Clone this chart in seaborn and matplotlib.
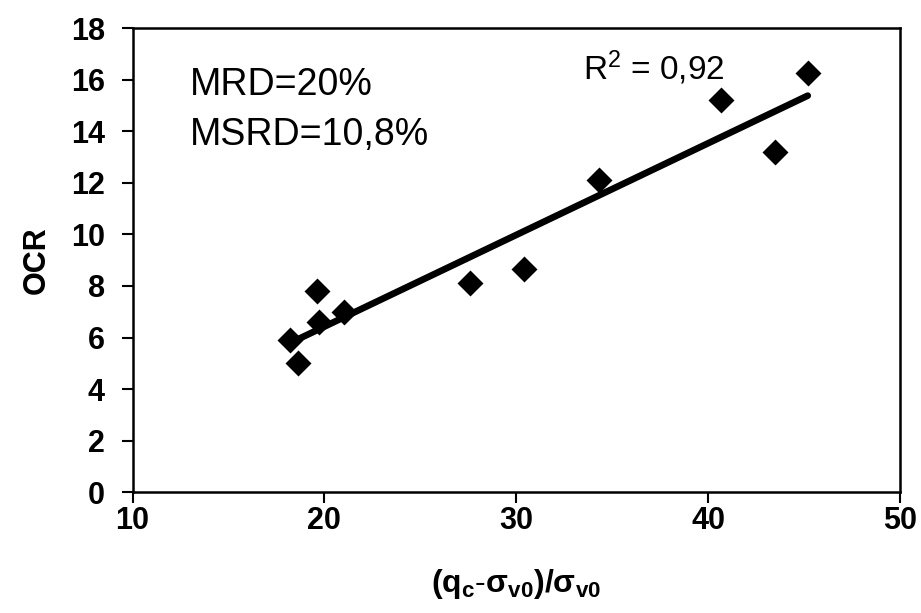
import numpy as np
import pandas as pd
import matplotlib.pyplot as plt
import seaborn as sns

# Dados
qc_norm = [18.2, 18.6, 19.6, 19.7, 21.0, 27.6, 30.4, 34.3, 40.7, 43.5, 45.2]
ocr = [5.9, 5.0, 7.8, 6.6, 7.0, 8.1, 8.65, 12.1, 15.2, 13.2, 16.25]
xticks = [10, 20, 30, 40, 50]
yticks = [0, 2, 4, 6, 8, 10, 12, 14, 16, 18]

df = pd.DataFrame({'x': qc_norm, 'OCR': ocr})

sns.set_style("white")
plt.rcParams['font.family'] = ['Liberation Sans', 'DejaVu Sans']
plt.rcParams['text.color'] = 'black'
plt.rcParams['axes.labelcolor'] = 'black'
plt.rcParams['mathtext.fontset'] = 'custom'
plt.rcParams['mathtext.rm'] = 'Liberation Sans'
plt.rcParams['mathtext.it'] = 'Liberation Sans:italic'
plt.rcParams['mathtext.bf'] = 'Liberation Sans:bold'

fig = plt.figure(figsize=(9.21, 6.13), dpi=100)
ax = fig.add_axes([0.144, 0.197, 0.833, 0.757])

sns.regplot(data=df, x='x', y='OCR', ax=ax, ci=None, marker='D',
            color='black', scatter_kws={'s': 175, 'linewidths': 0, 'alpha': 1},
            line_kws={'linewidth': 4.8, 'solid_capstyle': 'round'})

ax.set_xlim(10, 50)
ax.set_ylim(0, 18)
ax.set_xticks(xticks)
ax.set_yticks(yticks)
ax.tick_params(axis='both', direction='out', length=8, width=1.5,
               labelsize=22, colors='black', left=True, bottom=True)
ax.tick_params(axis='x', pad=2)
ax.tick_params(axis='y', pad=12)
for lab in ax.get_xticklabels() + ax.get_yticklabels():
    lab.set_fontweight('bold')
for s in ax.spines.values():
    s.set_color('black')
    s.set_linewidth(1.8)

ax.set_xlabel(r'$\mathbf{(q_c}$-$\mathbf{\sigma_{v0})/\sigma_{v0}}$', fontsize=23, labelpad=22)
ax.set_ylabel('OCR', fontsize=22, fontweight='bold', labelpad=14)

# Coeficiente de determinação
r2 = np.corrcoef(qc_norm, ocr)[0, 1] ** 2
ax.text(0.587, 0.914, r'R$^2$ = 0,92', transform=ax.transAxes,
        fontsize=24, ha='left', va='center')
ax.text(0.075, 0.877, 'MRD=20%', transform=ax.transAxes,
        fontsize=27, ha='left', va='center')
ax.text(0.075, 0.77, 'MSRD=10,8%', transform=ax.transAxes,
        fontsize=27, ha='left', va='center')

plt.savefig('out.png', dpi=100)
